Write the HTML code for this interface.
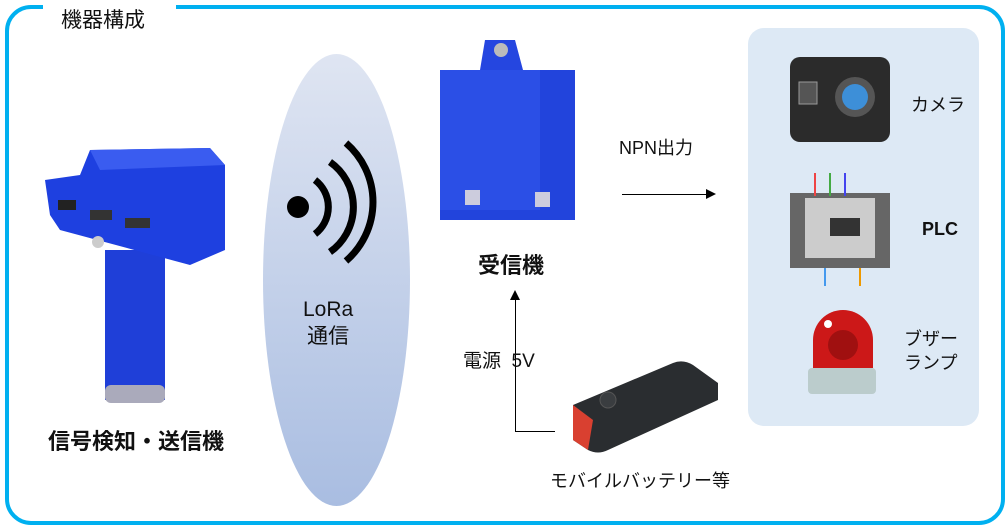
<!DOCTYPE html>
<html><head><meta charset="utf-8"><style>
body{margin:0;width:1008px;height:531px;background:#fff;position:relative;overflow:hidden;font-family:"Liberation Sans","Noto Sans CJK JP",sans-serif;color:#111}
.a{position:absolute}
.t{position:absolute;white-space:nowrap}
</style></head><body>
<div class="a" style="left:5px;top:5px;width:992px;height:512px;border:4px solid #00b0f0;border-radius:26px"></div>
<div class="a" style="left:43px;top:0;width:133px;height:14px;background:#fff"></div>
<div class="t" style="left:61px;top:4px;font-size:21px">機器構成</div>

<div class="a" style="left:263px;top:54px;width:147px;height:452px;border-radius:50%;background:linear-gradient(#dfe5f2,#a9bde1)"></div>
<svg class="a" style="left:280px;top:135px" width="110" height="130">
<circle cx="18" cy="72" r="11" fill="#000"/>
<g fill="none" stroke="#000" stroke-width="7" stroke-linecap="butt">
<path d="M35 45 A34 34 0 0 1 35 99"/>
<path d="M50 27 A55 55 0 0 1 50 117"/>
<path d="M66 8 A78 78 0 0 1 66 126"/>
</g></svg>
<div class="t" style="left:303px;top:296px;font-size:21px;text-align:center;line-height:27px">LoRa<br>通信</div>

<!-- sensor device -->
<svg class="a" style="left:40px;top:140px" width="200" height="270">
<rect x="65" y="110" width="60" height="150" fill="#1f3fd8"/>
<rect x="65" y="245" width="60" height="18" rx="6" fill="#aab"/>
<path d="M5 40 L40 35 L50 10 L170 8 L185 25 L185 110 L150 125 L20 90 L10 75 Z" fill="#1e40e0"/>
<path d="M50 10 L170 8 L185 25 L60 30 Z" fill="#3a5cf0"/>
<rect x="18" y="60" width="18" height="10" fill="#222"/>
<rect x="50" y="70" width="22" height="10" fill="#333"/>
<rect x="85" y="78" width="25" height="10" fill="#333"/>
<circle cx="58" cy="102" r="6" fill="#ccc"/>
</svg>
<div class="t" style="left:48px;top:424px;font-size:22px;font-weight:bold">信号検知・送信機</div>

<!-- receiver -->
<svg class="a" style="left:435px;top:30px" width="150" height="195">
<path d="M45 40 L50 10 L80 10 L88 40 Z" fill="#2546e0"/>
<circle cx="66" cy="20" r="7" fill="#bbb"/>
<rect x="5" y="40" width="135" height="150" fill="#2244dc"/>
<rect x="5" y="40" width="100" height="140" fill="#2b4fe6"/>
<rect x="30" y="160" width="15" height="15" fill="#ccd"/>
<rect x="100" y="162" width="15" height="15" fill="#ccd"/>
</svg>
<div class="t" style="left:478px;top:248px;font-size:22px;font-weight:bold">受信機</div>

<div class="t" style="left:619px;top:134px;font-size:18px">NPN出力</div>
<div class="a" style="left:622px;top:194px;width:88px;height:1px;background:#000"></div>
<div class="a" style="left:706px;top:189px;border-left:10px solid #000;border-top:5px solid transparent;border-bottom:5px solid transparent"></div>

<div class="a" style="left:515px;top:298px;width:1px;height:134px;background:#000"></div>
<div class="a" style="left:515px;top:431px;width:40px;height:1px;background:#000"></div>
<div class="a" style="left:510px;top:290px;border-bottom:10px solid #000;border-left:5px solid transparent;border-right:5px solid transparent"></div>
<div class="t" style="left:463px;top:346px;font-size:19px">電源 &nbsp;5V</div>

<svg class="a" style="left:568px;top:355px" width="160" height="110">
<path d="M5 50 L105 8 Q115 4 125 10 L150 28 L150 45 L40 95 Q30 100 20 95 L5 85 Z" fill="#2a2d30"/>
<path d="M5 50 L5 85 L20 95 L25 65 Z" fill="#d94030"/>
<circle cx="40" cy="45" r="8" fill="#3a3d40" stroke="#555"/>
</svg>
<div class="t" style="left:550px;top:467px;font-size:18px">モバイルバッテリー等</div>

<div class="a" style="left:748px;top:28px;width:231px;height:398px;background:#dde9f5;border-radius:16px"></div>
<svg class="a" style="left:785px;top:52px" width="110" height="95">
<rect x="5" y="5" width="100" height="85" rx="10" fill="#2b2b2b"/>
<rect x="14" y="30" width="18" height="22" fill="#555" stroke="#999"/>
<circle cx="70" cy="45" r="20" fill="#555"/><circle cx="70" cy="45" r="13" fill="#3d8fd8"/>
</svg>
<div class="t" style="left:911px;top:91px;font-size:18px">カメラ</div>
<svg class="a" style="left:785px;top:168px" width="110" height="122">
<rect x="5" y="25" width="100" height="75" fill="#666"/>
<rect x="20" y="30" width="70" height="60" fill="#ccc"/>
<rect x="45" y="50" width="30" height="18" fill="#333"/>
<g stroke-width="2"><line x1="30" y1="5" x2="30" y2="28" stroke="#e44"/><line x1="45" y1="5" x2="45" y2="28" stroke="#4a4"/><line x1="60" y1="5" x2="60" y2="28" stroke="#44e"/><line x1="75" y1="100" x2="75" y2="118" stroke="#e90"/><line x1="40" y1="100" x2="40" y2="118" stroke="#49e"/></g>
</svg>
<div class="t" style="left:922px;top:219px;font-size:18px;font-weight:bold">PLC</div>
<svg class="a" style="left:808px;top:310px" width="70" height="90">
<path d="M5 58 L5 30 A30 30 0 0 1 65 30 L65 58 Z" fill="#cc1818"/>
<circle cx="35" cy="35" r="15" fill="#a01010"/>
<circle cx="20" cy="14" r="4" fill="#fff"/>
<rect x="0" y="58" width="68" height="26" rx="4" fill="#bcc"/>
</svg>
<div class="t" style="left:904px;top:327px;font-size:18px;line-height:24px">ブザー<br>ランプ</div>
</body></html>
